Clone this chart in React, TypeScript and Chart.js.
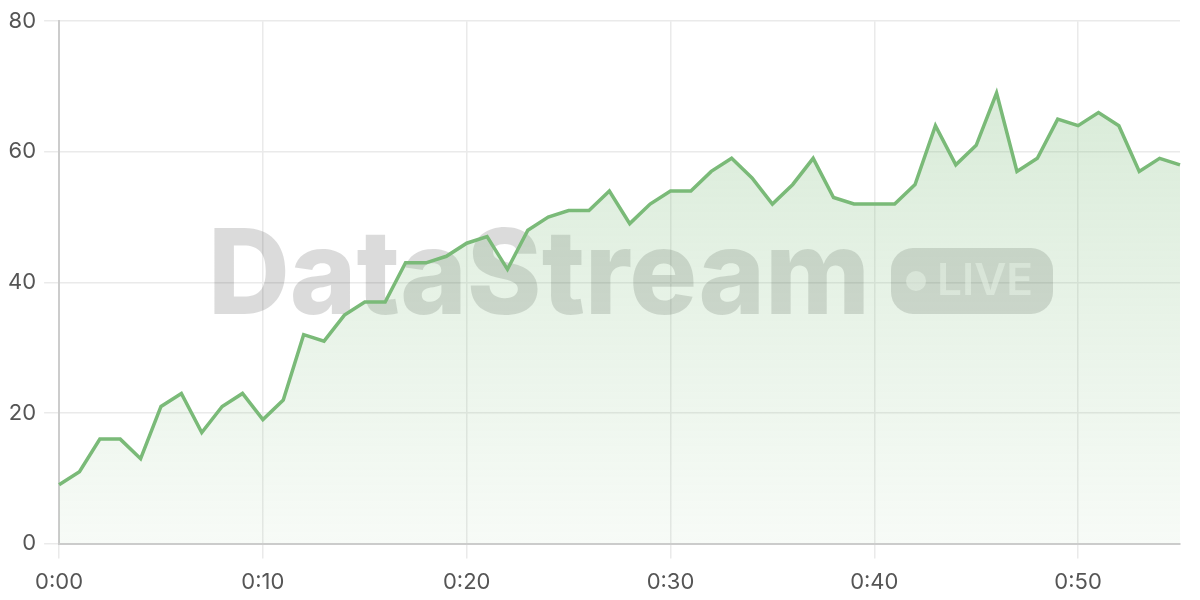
import { useEffect, useRef } from "react"
import { Chart, registerables } from "chart.js"

Chart.register(...registerables)

const timeLabels = [
  "0:00", "0:01", "0:02", "0:03", "0:04", "0:05", "0:06", "0:07", "0:08", "0:09",
  "0:10", "0:11", "0:12", "0:13", "0:14", "0:15", "0:16", "0:17", "0:18", "0:19",
  "0:20", "0:21", "0:22", "0:23", "0:24", "0:25", "0:26", "0:27", "0:28", "0:29",
  "0:30", "0:31", "0:32", "0:33", "0:34", "0:35", "0:36", "0:37", "0:38", "0:39",
  "0:40", "0:41", "0:42", "0:43", "0:44", "0:45", "0:46", "0:47", "0:48", "0:49",
  "0:50", "0:51", "0:52", "0:53", "0:54", "0:55",
]

const streamValues = [
  9, 11, 16, 16, 13, 21, 23, 17, 21, 23,
  19, 22, 32, 31, 35, 37, 37, 43, 43, 44,
  46, 47, 42, 48, 50, 51, 51, 54, 49, 52,
  54, 54, 57, 59, 56, 52, 55, 59, 53, 52,
  52, 52, 55, 64, 58, 61, 69, 57, 59, 65,
  64, 66, 64, 57, 59, 58,
]

const yTicks = [0, 20, 40, 60, 80]

const watermarkText = "DataStream"
const badgeText = "LIVE"

const FONT = "Inter, 'Noto Sans', sans-serif"

// gray watermark behind the line
const watermarkPlugin = {
  id: "watermark",
  beforeDatasetsDraw(chart: Chart) {
    const { ctx } = chart
    ctx.save()
    ctx.fillStyle = "rgba(0,0,0,0.14)"
    ctx.font = `800 118px ${FONT}`
    ctx.textBaseline = "alphabetic"
    const w = ctx.measureText(watermarkText).width
    ctx.translate(208, 314)
    ctx.scale(662 / w, 1)
    ctx.fillText(watermarkText, 0, 0)
    ctx.restore()

    // LIVE pill
    ctx.save()
    ctx.fillStyle = "rgba(0,0,0,0.14)"
    ctx.beginPath()
    ctx.roundRect(891, 248, 162, 66, 22)
    ctx.fill()
    ctx.fillStyle = "rgba(255,255,255,0.55)"
    ctx.beginPath()
    ctx.arc(916, 281, 10, 0, Math.PI * 2)
    ctx.fill()
    ctx.font = `600 44px ${FONT}`
    ctx.textBaseline = "middle"
    const lw = ctx.measureText(badgeText).width
    ctx.translate(937, 282)
    ctx.scale(96 / lw, 1)
    ctx.fillText(badgeText, 0, 0)
    ctx.restore()
  },
}

export default function App() {
  const chartRef = useRef<HTMLCanvasElement>(null)
  const chartInstance = useRef<Chart | null>(null)

  useEffect(() => {
    if (!chartRef.current) return
    if (chartInstance.current) chartInstance.current.destroy()
    const ctx = chartRef.current.getContext("2d")
    if (!ctx) return

    chartInstance.current = new Chart(ctx, {
      type: "line",
      data: {
        labels: timeLabels,
        datasets: [
          {
            data: streamValues,
            borderColor: "#7aba78",
            borderWidth: 3.5,
            pointRadius: 0,
            tension: 0,
            fill: "origin",
            backgroundColor: (c: any) => {
              const area = c.chart.chartArea
              if (!area) return "rgba(122,186,120,0.2)"
              const g = c.chart.ctx.createLinearGradient(0, area.top, 0, area.bottom)
              g.addColorStop(0, "rgba(122,186,120,0.32)")
              g.addColorStop(1, "rgba(122,186,120,0.06)")
              return g
            },
          },
        ],
      },
      options: {
        animation: false,
        responsive: true,
        maintainAspectRatio: false,
        layout: { padding: { top: 6, right: 20, bottom: -7, left: 0 } },
        plugins: {
          legend: { display: false },
          tooltip: { enabled: false },
        },
        scales: {
          x: {
            offset: false,
            grid: {
              color: "#eaeaea",
              tickColor: "#eaeaea",
              tickLength: 15,
              lineWidth: 1.5,
            },
            border: { color: "#cccccc", width: 2 },
            ticks: {
              autoSkip: false,
              maxRotation: 0,
              padding: 11,
              color: "#555",
              font: { family: FONT, size: 22 },
              callback: (_v: any, i: number) =>
                i % 10 === 0 ? timeLabels[i] : null,
            },
          },
          y: {
            min: yTicks[0],
            max: yTicks[yTicks.length - 1],
            afterBuildTicks: (axis: any) => {
              axis.ticks = yTicks.map((v) => ({ value: v }))
            },
            grid: {
              color: "#eaeaea",
              tickColor: "#eaeaea",
              tickLength: 15,
              lineWidth: 1.5,
            },
            border: { color: "#cccccc", width: 2 },
            ticks: {
              padding: 8,
              color: "#555",
              font: { family: FONT, size: 22 },
            },
          },
        },
      },
      plugins: [watermarkPlugin],
    })

    return () => {
      if (chartInstance.current) {
        chartInstance.current.destroy()
        chartInstance.current = null
      }
    }
  }, [])

  return (
    <div style={{ position: "fixed", left: 0, top: 0, width: 1200, height: 600, background: "#fff" }}>
      <canvas ref={chartRef}></canvas>
    </div>
  )
}
